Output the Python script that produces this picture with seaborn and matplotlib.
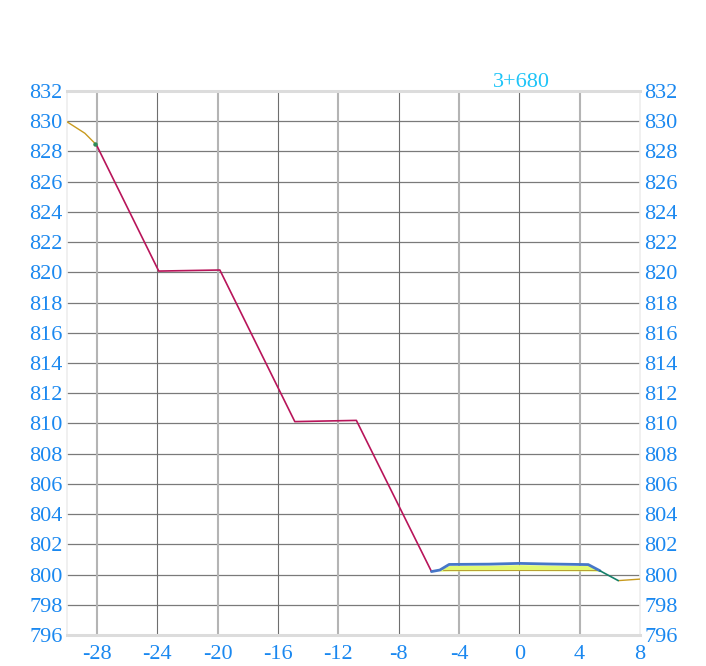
import numpy as np
import matplotlib
matplotlib.use("Agg")
import matplotlib.pyplot as plt
import seaborn as sns

# section 3+680 cross-section data
station = "3+680"

ground_left_x = [-30.05, -28.8, -28.1]
ground_left_y = [830.0, 829.2, 828.5]

cut_x = [-28.03, -23.9, -19.85, -14.88, -10.8, -5.82]
cut_y = [828.43, 820.08, 820.15, 810.12, 810.2, 800.2]

road_x = [-5.82, -5.27, -4.65, -2.0, 0.0, 2.0, 4.57, 5.35]
road_y = [800.2, 800.3, 800.67, 800.69, 800.74, 800.7, 800.66, 800.25]

pave_x = [-5.27, -4.65, -2.0, 0.0, 2.0, 4.57, 5.35]
pave_top = [800.3, 800.6, 800.62, 800.66, 800.63, 800.6, 800.25]
pave_bot = [800.22, 800.24, 800.25, 800.26, 800.25, 800.24, 800.22]

old_ground_x = [-5.07, 5.15]
old_ground_y = [800.3, 800.3]

fill_slope_x = [5.35, 6.56]
fill_slope_y = [800.25, 799.6]

ground_right_x = [6.56, 8.0]
ground_right_y = [799.6, 799.7]

x_ticks = [-28, -24, -20, -16, -12, -8, -4, 0, 4, 8]
y_ticks = list(range(796, 833, 2))

sns.set_style("white")
plt.rcParams['font.family'] = ['Liberation Serif', 'DejaVu Serif']

fig = plt.figure(figsize=(7.06, 6.66), dpi=100)
ax = fig.add_axes([0.0945, 0.0465, 0.812, 0.817])

# grid
for yv in y_ticks[1:-1]:
    ax.axhline(yv, color='#7a7a7a', lw=0.9, zorder=1)
for xv in x_ticks[:-1]:
    if xv % 8 == 0:
        ax.axvline(xv, color='#6e6e6e', lw=0.8, zorder=1)
    else:
        ax.axvline(xv, color='#b4b4b4', lw=1.5, zorder=1)

# pavement fill
ax.fill_between(pave_x, pave_bot, pave_top, color='#e2fa72', lw=0, zorder=2)

sns.lineplot(x=old_ground_x, y=old_ground_y, color='#b8a030', lw=0.7,
             sort=False, estimator=None, ax=ax, zorder=3)
sns.lineplot(x=ground_left_x, y=ground_left_y, color='#c89a1e', lw=1.0,
             sort=False, estimator=None, ax=ax, zorder=3)
sns.lineplot(x=ground_right_x, y=ground_right_y, color='#c89a1e', lw=1.0,
             sort=False, estimator=None, ax=ax, zorder=3)
sns.lineplot(x=cut_x, y=cut_y, color='#b8155a', lw=1.2,
             sort=False, estimator=None, ax=ax, zorder=4)
sns.lineplot(x=road_x, y=road_y, color='#4677c8', lw=2.0,
             sort=False, estimator=None, ax=ax, zorder=4)
sns.lineplot(x=fill_slope_x, y=fill_slope_y, color='#15806a', lw=1.2,
             sort=False, estimator=None, ax=ax, zorder=4)
ax.plot(ground_left_x[-1], ground_left_y[-1], 'o', color='#2e8b57', ms=2.2, zorder=5)

ax.set_xlim(-30, 8)
ax.set_ylim(796, 832)
ax.set_xticks(x_ticks)
ax.set_yticks(y_ticks)
ax.set_xticklabels([str(v) for v in x_ticks])
ax.set_yticklabels([str(v) for v in y_ticks])
ax.set_xlabel("")
ax.set_ylabel("")

tick_color = '#1a88f0'
ax.tick_params(axis='y', length=0, pad=3, labelsize=16, labelcolor=tick_color,
               left=True, right=True, labelleft=True, labelright=True)
ax.tick_params(axis='x', length=0, pad=7, labelsize=16, labelcolor=tick_color)

for side in ['top', 'bottom']:
    ax.spines[side].set_color('#dcdcdc')
    ax.spines[side].set_linewidth(2.2)
for side in ['left', 'right']:
    ax.spines[side].set_color('#eeeeee')
    ax.spines[side].set_linewidth(1.2)

ax.text(0.13, 832.25, station, ha='center', va='baseline', color='#1ec4f8',
        fontsize=16, clip_on=False)

fig.savefig('out.png', dpi=100)
